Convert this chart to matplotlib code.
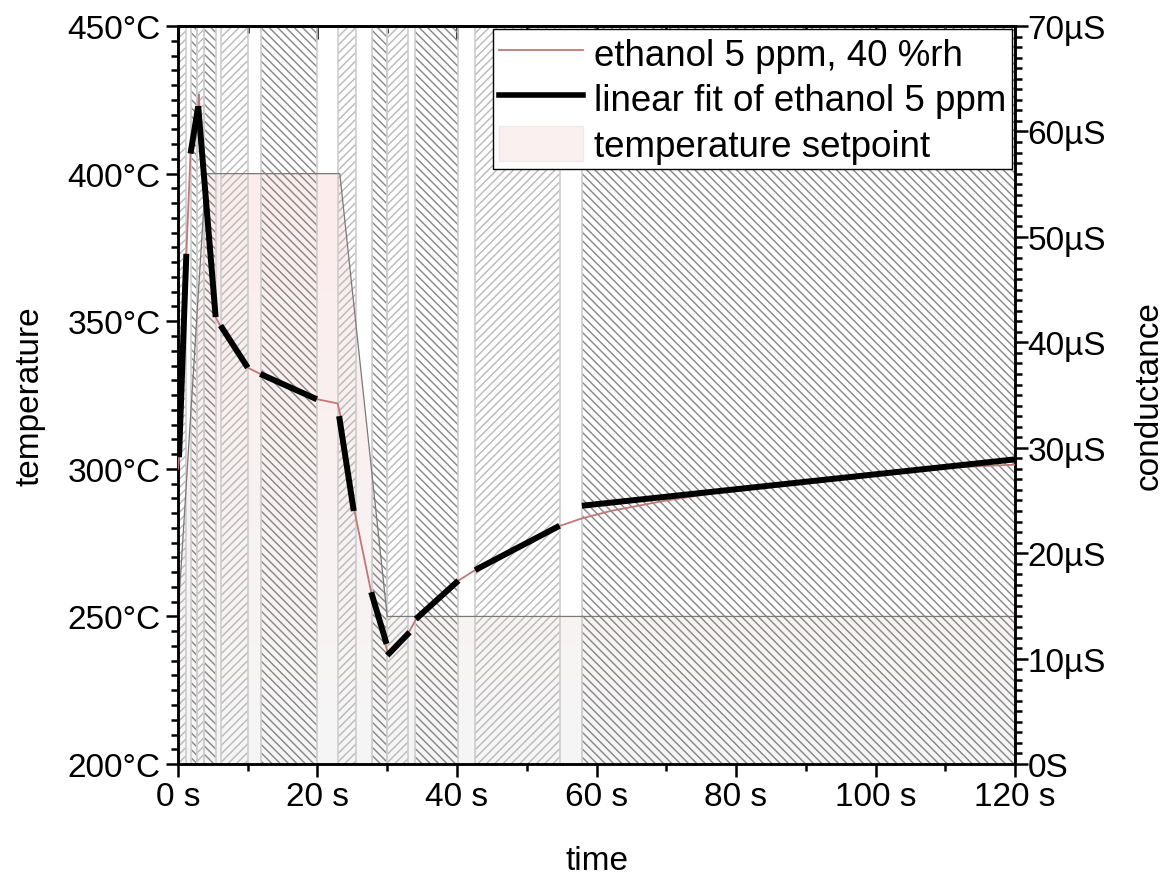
import numpy as np
import matplotlib.pyplot as plt
from matplotlib.patches import Polygon, Patch
from matplotlib.lines import Line2D
from matplotlib.ticker import MultipleLocator, FuncFormatter

plt.rcParams['font.family'] = ['Liberation Sans', 'DejaVu Sans']
plt.rcParams['hatch.linewidth'] = 1.0

# hatched phases of the cycle (s)
band_start = [0.0, 1.8, 2.7, 3.7, 6.1, 11.9, 22.9, 27.8, 30.0, 34.0, 42.6, 57.9]
band_end = [1.15, 2.7, 3.7, 5.4, 10.0, 20.0, 25.5, 30.0, 33.0, 40.1, 54.8, 120.0]
band_kind = ['light', 'dark', 'light', 'dark', 'light', 'dark',
             'light', 'dark', 'light', 'dark', 'light', 'dark']

# temperature setpoint
setpoint_t = [0.0, 4.0, 23.2, 30.0, 120.0]
setpoint_T = [250, 400, 400, 250, 250]

# measured conductance (µS)
time_s = [0, 0.15, 1.2, 1.8, 2.9, 3.0, 3.1, 3.7, 5.4, 6.1, 8.0, 10.0, 11.8, 16.0,
          20.0, 22.9, 23.3, 25.3, 27.7, 30.0, 30.3, 33.1, 34.1, 37.0, 40.2, 42.6,
          48.0, 54.8, 57.9, 62, 70, 80, 90, 100, 110, 120]
cond_uS = [28.0, 29.1, 48.4, 57.9, 62.4, 63.5, 62.0, 57.0, 42.4, 41.5, 39.4, 37.6,
           37.0, 35.8, 34.6, 34.2, 33.0, 24.0, 16.3, 10.7, 10.4, 12.5, 13.7, 15.7,
           17.4, 18.4, 20.5, 22.6, 23.3, 24.0, 25.0, 26.0, 26.9, 27.6, 28.1, 28.4]

# linear fits per phase
fit_t0 = [0.15, 1.8, 2.9, 6.1, 11.8, 23.1, 27.7, 30.0, 34.1, 42.6, 57.9]
fit_t1 = [1.2, 2.9, 5.4, 10.0, 19.9, 25.2, 29.9, 33.2, 40.2, 54.7, 120.0]
fit_c0 = [29.1, 57.9, 62.4, 41.6, 37.0, 33.0, 16.3, 10.3, 13.75, 18.4, 24.5]
fit_c1 = [48.4, 62.4, 42.4, 37.6, 34.6, 24.0, 11.4, 12.5, 17.4, 22.6, 28.9]

FS = 24
data_color = '#c07878'

fig = plt.figure(figsize=(11.74, 8.87), dpi=100)
ax = fig.add_axes([0.1516, 0.1375, 0.713, 0.832])

# setpoint area with vertical gradient
poly = Polygon(np.column_stack([setpoint_t + [120, 0], setpoint_T + [200, 200]]),
               closed=True, facecolor='none', edgecolor='none')
ax.add_patch(poly)
g = np.linspace(0, 1, 256)[:, None, None]
c_bot = np.array([246, 246, 246]) / 255
c_top = np.array([253, 236, 236]) / 255
img = c_bot + (c_top - c_bot) * g
im = ax.imshow(img, extent=[0, 120, 200, 400], origin='lower', aspect='auto', zorder=0)
im.set_clip_path(poly)

for t0, t1, k in zip(band_start, band_end, band_kind):
    if k == 'light':
        ax.axvspan(t0, t1, facecolor='none', edgecolor='#b8b8b8', hatch='////', lw=0, zorder=1)
    else:
        ax.axvspan(t0, t1, facecolor='none', edgecolor='#858585', hatch='\\\\\\\\', lw=0, zorder=1)
    ax.axvline(t0, color='#cdcdcd', lw=1.2, zorder=1.5)
    ax.axvline(t1, color='#cdcdcd', lw=1.2, zorder=1.5)

ax.plot(setpoint_t, setpoint_T, color='#7a7a7a', lw=0.9, zorder=2)

ax.set_xlim(0, 120)
ax.set_ylim(200, 450)
ax.xaxis.set_major_locator(MultipleLocator(20))
ax.xaxis.set_minor_locator(MultipleLocator(10))
ax.yaxis.set_major_locator(MultipleLocator(50))
ax.yaxis.set_minor_locator(MultipleLocator(5))
ax.xaxis.set_major_formatter(FuncFormatter(lambda v, p: f'{v:.0f} s'))
ax.yaxis.set_major_formatter(FuncFormatter(lambda v, p: f'{v:.0f}°C'))
ax.tick_params(which='both', direction='out', width=1.8, labelsize=FS)
ax.tick_params(which='major', length=9)
ax.tick_params(which='minor', length=5)
ax.tick_params(axis='x', which='major', pad=3)
ax.set_xlabel('time', fontsize=FS, labelpad=24)
ax.set_ylabel('temperature', fontsize=FS, labelpad=16)

top = ax.secondary_xaxis('top')
top.xaxis.set_major_locator(MultipleLocator(20))
top.xaxis.set_minor_locator(MultipleLocator(10))
top.tick_params(which='both', direction='in', width=1.8, labeltop=False)
top.tick_params(which='major', length=9)
top.tick_params(which='minor', length=5)

ax2 = ax.twinx()
ax2.plot(time_s, cond_uS, color=data_color, lw=1.3, zorder=3)
for t0, t1, c0, c1 in zip(fit_t0, fit_t1, fit_c0, fit_c1):
    ax2.plot([t0, t1], [c0, c1], color='k', lw=4.3, solid_capstyle='butt', zorder=4)
ax2.set_ylim(0, 70)
ax2.yaxis.set_major_locator(MultipleLocator(10))
ax2.yaxis.set_minor_locator(MultipleLocator(1))
ax2.yaxis.set_major_formatter(FuncFormatter(lambda v, p: '0S' if v == 0 else f'{v:.0f}µS'))
ax2.tick_params(which='both', direction='out', width=1.8, labelsize=FS)
ax2.tick_params(which='major', length=9, pad=0)
ax2.tick_params(which='minor', length=5)
ax2.set_ylabel('conductance', fontsize=FS, labelpad=20)

for a in (ax, ax2, top):
    for s in a.spines.values():
        s.set_linewidth(1.8)

handles = [Line2D([], [], color=data_color, lw=1.3),
           Line2D([], [], color='k', lw=4),
           Patch(facecolor='#fbf0f0', edgecolor='#f2e6e6')]
labels = ['ethanol 5 ppm, 40 %rh', 'linear fit of ethanol 5 ppm', 'temperature setpoint']
leg = ax2.legend(handles, labels, loc='upper right', fontsize=26.5, frameon=True,
                 fancybox=False, edgecolor='k', framealpha=1, borderaxespad=0.08,
                 borderpad=0.15, handlelength=2.3, handleheight=1.1,
                 handletextpad=0.3, labelspacing=0.2)
leg.get_frame().set_linewidth(1.0)

fig.savefig('out.png', dpi=100)
